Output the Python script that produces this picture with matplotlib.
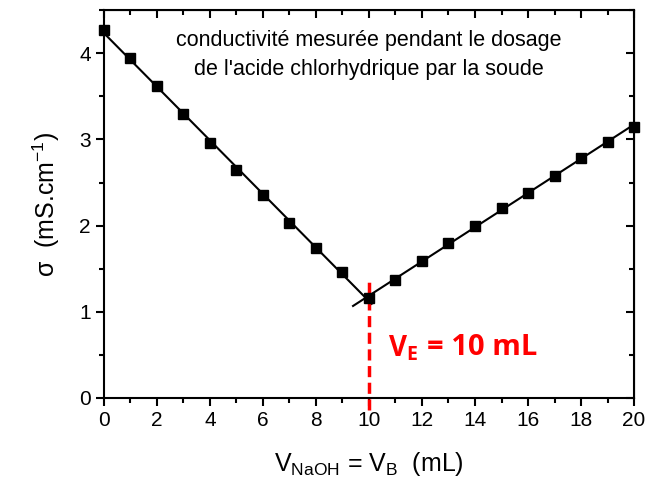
import matplotlib
matplotlib.use('Agg')
from matplotlib import pyplot as plt
from matplotlib.ticker import MultipleLocator
import numpy as np

plt.rcParams['font.family'] = ['Liberation Sans', 'DejaVu Sans']
plt.rcParams['mathtext.fontset'] = 'custom'
plt.rcParams['mathtext.rm'] = 'Liberation Sans'
plt.rcParams['mathtext.it'] = 'Liberation Sans'
plt.rcParams['mathtext.bf'] = 'Open Sans:bold'

# measured conductivity
v_naoh = [0, 1, 2, 3, 4, 5, 6, 7, 8, 9, 10,
          11, 12, 13, 14, 15, 16, 17, 18, 19, 20]
sigma = [4.27, 3.94, 3.62, 3.29, 2.96, 2.65, 2.35, 2.03, 1.74, 1.46, 1.16,
         1.37, 1.59, 1.80, 2.00, 2.20, 2.38, 2.58, 2.78, 2.97, 3.15]

# ranges of the two fitted lines
left_range = [0, 10.1]
right_range = [9.4, 20]
v_eq = 10

x = np.array(v_naoh)
y = np.array(sigma)
p_left = np.polyfit(x[x <= 10], y[x <= 10], 1)
p_right = np.polyfit(x[x >= 10], y[x >= 10], 1)

fig = plt.figure(figsize=(6.49, 4.87), dpi=100)
ax = fig.add_axes([0.160, 0.183, 0.817, 0.796])

xl = np.array(left_range)
xr = np.array(right_range)
ax.plot(xl, np.polyval(p_left, xl), color='black', lw=1.5)
ax.plot(xr, np.polyval(p_right, xr), color='black', lw=1.5)
ax.plot(x, y, 's', color='black', markersize=6.5, clip_on=False, zorder=5)

ax.plot([v_eq, v_eq], [-0.14, 1.34], color='red', lw=2.5, ls=(0, (3.2, 1.6)),
        clip_on=False, zorder=4)

ax.text(10.7, 0.58, r'$\mathbf{V_E}$', color='red', fontsize=20,
        va='center', ha='left')
ax.text(12.2, 0.58, '= 10 mL', color='red', fontsize=21, family='Open Sans',
        fontweight='bold', va='center', ha='left')
ax.text(10.0, 3.98, "conductivité mesurée pendant le dosage\nde l'acide chlorhydrique par la soude",
        fontsize=15.5, ha='center', va='center', linespacing=1.45)

ax.set_xlim(0, 20)
ax.set_ylim(0, 4.5)
ax.xaxis.set_major_locator(MultipleLocator(2))
ax.xaxis.set_minor_locator(MultipleLocator(1))
ax.yaxis.set_major_locator(MultipleLocator(1))
ax.yaxis.set_minor_locator(MultipleLocator(0.5))

for s in ax.spines.values():
    s.set_linewidth(1.5)
ax.tick_params(which='both', direction='out', width=1.5, labelsize=15,
               top=False, right=False)
ax.tick_params(which='major', length=6)
ax.tick_params(which='minor', length=3.5)

# inward ticks on top and right
ax2 = ax.secondary_xaxis('top')
ax2.xaxis.set_major_locator(MultipleLocator(2))
ax2.xaxis.set_minor_locator(MultipleLocator(1))
ax2.tick_params(which='both', direction='in', width=1.5, labeltop=False)
ax2.tick_params(which='major', length=6)
ax2.tick_params(which='minor', length=3.5)
ay2 = ax.secondary_yaxis('right')
ay2.yaxis.set_major_locator(MultipleLocator(1))
ay2.yaxis.set_minor_locator(MultipleLocator(0.5))
ay2.tick_params(which='both', direction='in', width=1.5, labelright=False)
ay2.tick_params(which='major', length=6)
ay2.tick_params(which='minor', length=3.5)

ax.set_xlabel(r'V$_{\mathrm{NaOH}}$ = V$_{\mathrm{B}}$  (mL)', fontsize=18, labelpad=14)
ax.set_ylabel(r'σ  (mS.cm$^{-1}$)', fontsize=18, labelpad=12)

fig.savefig('out.png', dpi=100)
